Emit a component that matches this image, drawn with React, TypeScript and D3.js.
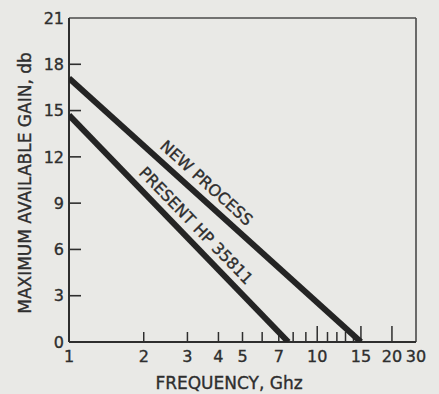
import React from "react";
import * as d3 from "d3";

const gainTicks = [0, 3, 6, 9, 12, 15, 18, 21];
const freqMinorTicks = [2, 3, 4, 5, 6, 7, 8, 9, 11, 12, 13, 14];
const freqMajorTicks = [10, 15, 20];
const freqLabels = [1, 2, 3, 4, 5, 7, 10, 15, 20, 30];

const newProcessFreq = [1, 15];
const newProcessGain = [17.1, 0];
const presentFreq = [1, 7.65];
const presentGain = [14.7, 0];

const seriesLabels = [
  { text: "NEW PROCESS", freq: newProcessFreq, gain: newProcessGain, at: 3.27 },
  { text: "PRESENT HP 35811", freq: presentFreq, gain: presentGain, at: 2.95 },
];

const W = 439;
const H = 394;
const FONT = "'DejaVu Sans', 'Liberation Sans', sans-serif";
const INK = "#2e2e2e";

export default function App() {
  const x = d3.scaleLog().domain([1, 25]).range([69, 416]).clamp(true);
  const y = d3.scaleLinear().domain([0, 21]).range([342, 18]);
  const [x0, x1] = x.range();
  const [yb, yt] = y.range();

  const line = d3
    .line<[number, number]>()
    .x((d) => x(d[0]))
    .y((d) => y(d[1]));

  const series = [
    newProcessFreq.map((f, i) => [f, newProcessGain[i]] as [number, number]),
    presentFreq.map((f, i) => [f, presentGain[i]] as [number, number]),
  ];

  const textProps = { fill: INK, stroke: INK, strokeWidth: 0.35 };

  return (
    <svg
      width={W}
      height={H}
      style={{ position: "absolute", left: 0, top: 0, display: "block" }}
      fontFamily={FONT}
    >
      <rect x={0} y={0} width={W} height={H} fill="#e9e9e6" />
      <defs>
        <clipPath id="plot">
          <rect x={x0} y={yt} width={x1 - x0} height={yb - yt} />
        </clipPath>
      </defs>

      {/* frame */}
      <line x1={x0} x2={x1} y1={yt} y2={yt} stroke="#4a4a4a" strokeWidth={1.6} />
      <line x1={x1} x2={x1} y1={yt} y2={yb} stroke="#4a4a4a" strokeWidth={1.6} />

      {/* y ticks */}
      {gainTicks.map((g) => (
        <g key={"yt" + g}>
          {g > 0 && g < 21 && (
            <line x1={x0} x2={x0 + 12} y1={y(g)} y2={y(g)} stroke={INK} strokeWidth={1.6} />
          )}
          <text
            x={x0 - 5}
            y={y(g)}
            dy="0.36em"
            textAnchor="end"
            fontSize={16}
            {...textProps}
          >
            {g}
          </text>
        </g>
      ))}

      {/* x ticks */}
      {freqMinorTicks.map((f) => (
        <line key={"xm" + f} x1={x(f)} x2={x(f)} y1={yb} y2={yb - 10} stroke={INK} strokeWidth={1.5} />
      ))}
      {freqMajorTicks.map((f) => (
        <line key={"xM" + f} x1={x(f)} x2={x(f)} y1={yb} y2={yb - 16} stroke={INK} strokeWidth={1.5} />
      ))}
      {freqLabels.map((f) => (
        <text
          key={"xl" + f}
          x={x(f)}
          y={362}
          textAnchor="middle"
          fontSize={16}
          {...textProps}
        >
          {f}
        </text>
      ))}

      {/* axes */}
      <line x1={x0} x2={x0} y1={yt} y2={yb} stroke={INK} strokeWidth={2} />
      <line x1={x0} x2={x1} y1={yb} y2={yb} stroke={INK} strokeWidth={2} />

      {/* series */}
      <g clipPath="url(#plot)">
        {series.map((s, i) => (
          <path key={"s" + i} d={line(s) || ""} fill="none" stroke="#242424" strokeWidth={6} />
        ))}
      </g>

      {/* series labels */}
      {seriesLabels.map((l) => {
        const ax = x(l.freq[0]);
        const ay = y(l.gain[0]);
        const bx = x(l.freq[1]);
        const by = y(l.gain[1]);
        const ang = (Math.atan2(by - ay, bx - ax) * 180) / Math.PI;
        const px = x(l.at);
        const t = (px - ax) / (bx - ax);
        const py = ay + t * (by - ay);
        return (
          <text
            key={l.text}
            transform={`translate(${px},${py}) rotate(${ang})`}
            y={-9}
            textAnchor="middle"
            fontSize={16}
            {...textProps}
          >
            {l.text}
          </text>
        );
      })}

      {/* axis titles */}
      <text x={229} y={389} textAnchor="middle" fontSize={17} {...textProps}>
        FREQUENCY, Ghz
      </text>
      <text
        transform={`translate(31,183) rotate(-90)`}
        textAnchor="middle"
        fontSize={17}
        {...textProps}
      >
        MAXIMUM AVAILABLE GAIN, db
      </text>
    </svg>
  );
}
